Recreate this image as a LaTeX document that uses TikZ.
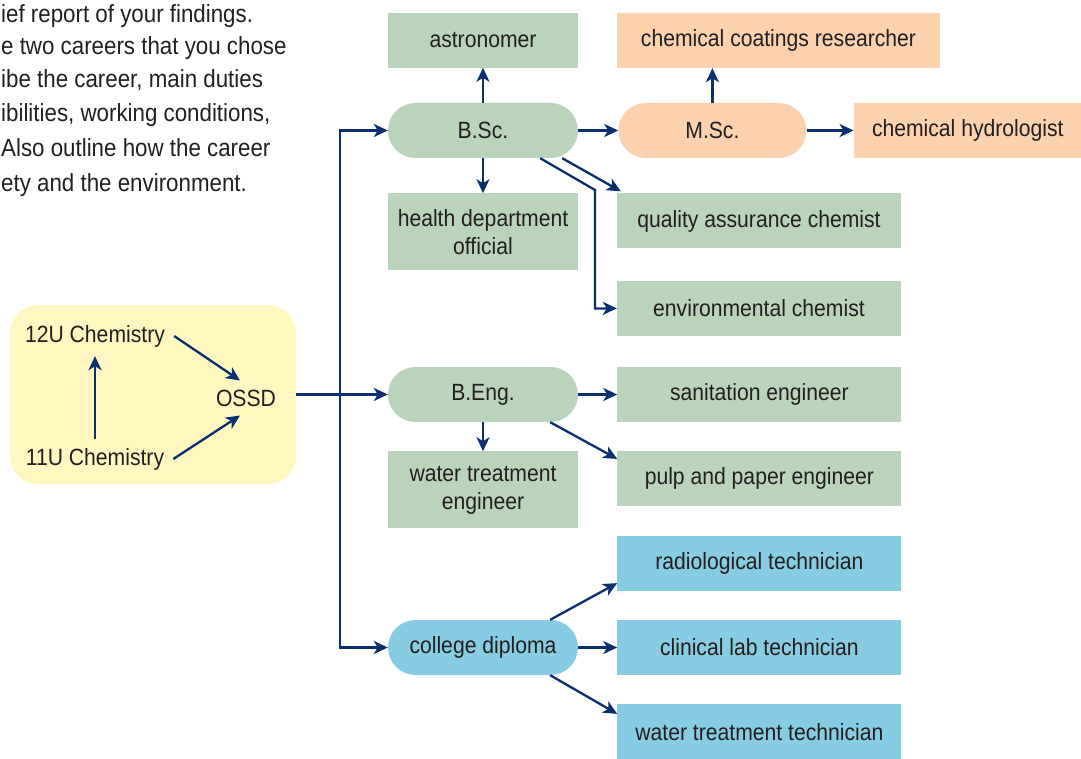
\documentclass[tikz,border=0pt]{standalone}
\usepackage{fontspec}
\setmainfont{Liberation Sans}[FakeStretch=0.9]
\usetikzlibrary{arrows.meta,positioning,calc}
\definecolor{navyline}{HTML}{0B2E6E}
\definecolor{inkgray}{HTML}{231F20}
\definecolor{sagegreen}{HTML}{BAD3BB}
\definecolor{peach}{HTML}{FBD1AE}
\definecolor{skyblue}{HTML}{88CCE3}
\definecolor{paleyellow}{HTML}{FEF8C0}
\tikzset{
  career/.style={
    rectangle,
    fill=sagegreen,
    inner sep=0pt,
    align=center,
    text=inkgray,
    minimum height=55pt,
    minimum width=284pt
  },
  degree/.style={
    rectangle,
    rounded corners=27.5pt,
    fill=sagegreen,
    inner sep=0pt,
    align=center,
    text=inkgray,
    minimum height=55pt,
    minimum width=190pt
  },
  course/.style={
    inner sep=9pt,
    text=inkgray
  },
  para/.style={
    anchor=west,
    inner sep=0pt,
    text=inkgray,
    font=\fontsize{24.8}{29}\selectfont,
    text height=17pt,
    text depth=5pt
  },
  arrow/.style={-{Stealth[length=14pt,width=13pt,inset=4pt]},line width=2.3pt,draw=navyline}
}

\begin{document}
\begin{tikzpicture}[x=1pt,y=-1pt,font=\fontsize{23.5}{28}\selectfont,node distance=35pt and 39pt]
    \useasboundingbox (0,0) rectangle (1081,759);

    % leftover text from the page
    \node[para] (p1) at (1,17) {ief report of your findings.};
    \node[para] (p2) at (1,49) {e two careers that you chose};
    \node[para] (p3) at (1,82) {ibe the career, main duties};
    \node[para] (p4) at (1,116) {ibilities, working conditions,};
    \node[para] (p5) at (1,151) {Also outline how the career};
    \node[para] (p6) at (1,186) {ety and the environment.};

    % high school
    \node[rectangle,rounded corners=28pt,fill=paleyellow,minimum width=286pt,minimum height=179pt] (prep) at (153,394.5) {};
    \node[course] (c12) at (95,336) {12U Chemistry};
    \node[course] (c11) at (95,459) {11U Chemistry};
    \node[course] (ossd) at (246,398) {OSSD};
    \draw[arrow] (c11.north) -- (c12.south);
    \draw[arrow] (c12.east) -- ([xshift=-6pt]ossd.north);
    \draw[arrow] (c11.east) -- ([xshift=-6pt]ossd.south);

    % B.Sc. branch
    \node[degree] (bsc) at (483,130.5) {B.Sc.};
    \node[career,minimum width=190pt,above=of bsc] (astro) {astronomer};
    \node[career,minimum width=190pt,minimum height=77pt,below=of bsc] (health) {health department\\official};
    \node[degree,fill=peach,minimum width=188pt,right=40pt of bsc] (msc) {M.Sc.};
    \node[career,fill=peach,minimum width=323pt] (coat) at (778.5,40.5) {chemical coatings researcher};
    \node[career,fill=peach,minimum width=228pt,right=47pt of msc] (hydro) {chemical hydrologist};
    \node[career] (qa) at (759,221) {quality assurance chemist};
    \node[career,below=32pt of qa] (env) {environmental chemist};

    % B.Eng. branch
    \node[degree] (beng) at (483,394.5) {B.Eng.};
    \node[career,right=of beng] (sanit) {sanitation engineer};
    \node[career,minimum width=190pt,minimum height=77pt,below=29pt of beng] (wte) {water treatment\\engineer};
    \node[career,below=29pt of sanit] (pulp) {pulp and paper engineer};

    % college branch
    \node[degree,fill=skyblue] (dip) at (483,647.5) {college diploma};
    \node[career,fill=skyblue,right=of dip] (clin) {clinical lab technician};
    \node[career,fill=skyblue,above=29pt of clin] (radio) {radiological technician};
    \node[career,fill=skyblue,below=29pt of clin] (wtt) {water treatment technician};

    \coordinate (split) at (340,394.5);
    \coordinate (bend) at (595,190);

    \draw[arrow] (prep.east) -- (beng.west);
    \draw[arrow] (split) |- (bsc.west);
    \draw[arrow] (split) |- (dip.west);

    \draw[arrow] (bsc) -- (astro);
    \draw[arrow] (bsc) -- (health);
    \draw[arrow] (bsc) -- (msc);
    \draw[arrow] (msc) -- (msc |- coat.south);
    \draw[arrow] (msc) -- (hydro);
    \draw[arrow] ([xshift=-16pt]bsc.south east) -- ([xshift=4pt,yshift=2pt]qa.north west);
    \draw[arrow] ([xshift=-38pt]bsc.south east) -- (bend) |- (env.west);

    \draw[arrow] (beng) -- (sanit);
    \draw[arrow] (beng) -- (wte);
    \draw[arrow] ([xshift=-28pt]beng.south east) -- ([yshift=20pt]pulp.west);

    \draw[arrow] ([xshift=-28pt]dip.north east) -- ([yshift=-20pt]radio.west);
    \draw[arrow] (dip) -- (clin);
    \draw[arrow] ([xshift=-28pt]dip.south east) -- ([yshift=18pt]wtt.west);
  \end{tikzpicture}
\end{document}
